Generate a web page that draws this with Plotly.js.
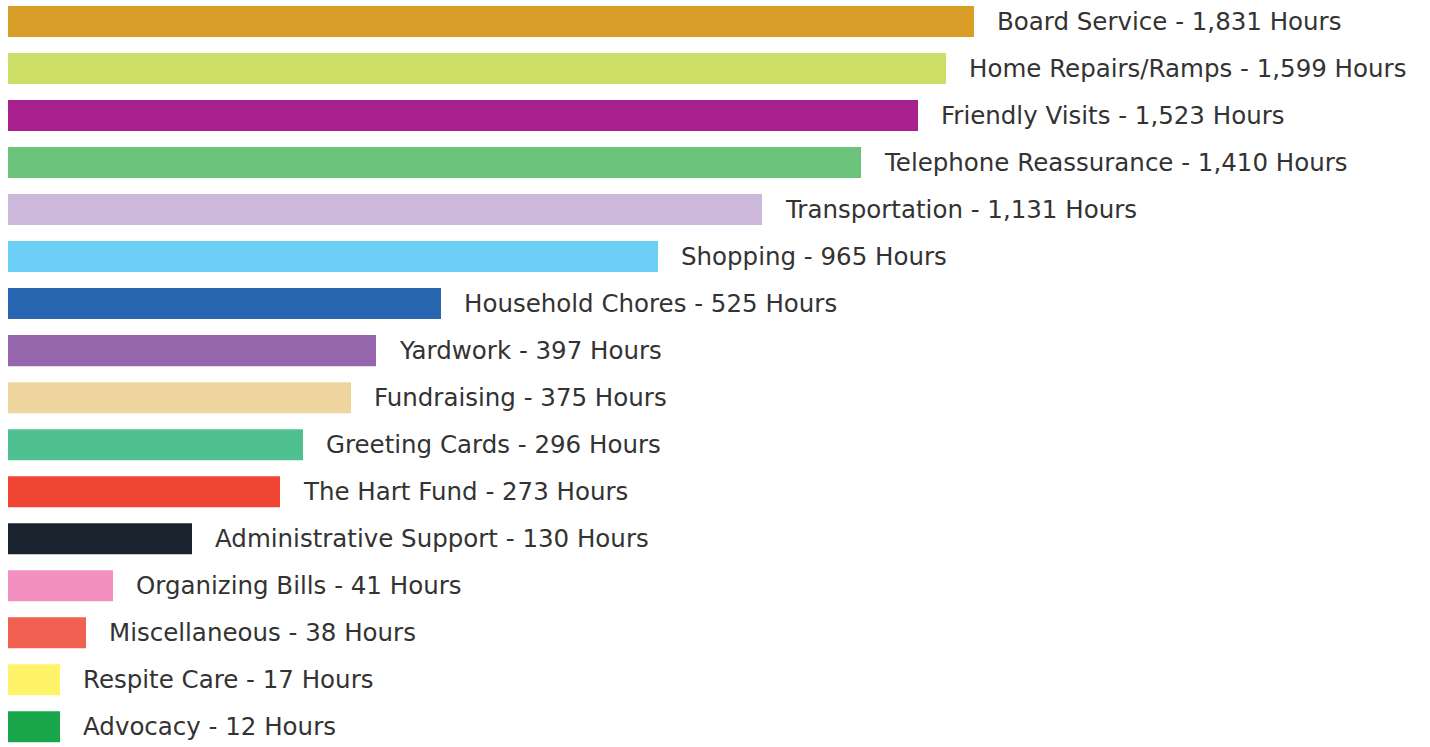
<!DOCTYPE html>
<html>
<head>
<meta charset="utf-8">
<script src="https://cdn.plot.ly/plotly-3.0.1.min.js"></script>
<style>
html,body{margin:0;padding:0;background:#fff;}
#chart{width:1430px;height:747px;}
</style>
</head>
<body>
<div id="chart"></div>
<script>
// Activity categories (top to bottom)
const categories = [
  "Board Service", "Home Repairs/Ramps", "Friendly Visits", "Telephone Reassurance",
  "Transportation", "Shopping", "Household Chores", "Yardwork", "Fundraising",
  "Greeting Cards", "The Hart Fund", "Administrative Support", "Organizing Bills",
  "Miscellaneous", "Respite Care", "Advocacy"
];
// Volunteer hours shown in the labels
const hours = [1831, 1599, 1523, 1410, 1131, 965, 525, 397, 375, 296, 273, 130, 41, 38, 17, 12];
// Drawn bar lengths as read from the infographic (bars are not to scale with hours)
const barLength = [966, 938, 910, 853, 754, 650, 433, 368, 343, 295, 272, 184, 105, 78, 52, 52];
// Bar colours
const barColors = [
  "#D99E27", "#CDDF66", "#A8208D", "#6BC27A", "#CCB8DA", "#6BCFF6", "#2966B2", "#9566AC",
  "#EED49D", "#4FC08F", "#EF4533", "#18232D", "#F390BF", "#F06152", "#FFF36A", "#1AA64A"
];

const labels = categories.map((c, i) => c + " - " + hours[i].toLocaleString("en-US") + " Hours");

const trace = {
  type: "bar",
  orientation: "h",
  y: categories,
  x: barLength,
  marker: {color: barColors, line: {width: 0}},
  hoverinfo: "skip"
};

const annotations = categories.map((c, i) => ({
  x: barLength[i],
  y: c,
  xref: "x",
  yref: "y",
  text: labels[i],
  showarrow: false,
  xanchor: "left",
  yanchor: "middle",
  xshift: 21,
  font: {family: "'DejaVu Sans', sans-serif", size: 24.5, color: "#333333"}
}));

const layout = {
  width: 1430,
  height: 747,
  margin: {l: 8, r: 0, t: 0, b: 0, pad: 0},
  paper_bgcolor: "#ffffff",
  plot_bgcolor: "#ffffff",
  showlegend: false,
  bargap: 0.34,
  xaxis: {range: [0, 1422], visible: false, fixedrange: true},
  yaxis: {
    type: "category",
    categoryorder: "array",
    categoryarray: categories,
    range: [15.43, -0.457],
    visible: false,
    fixedrange: true
  },
  annotations: annotations
};

Plotly.newPlot("chart", [trace], layout, {displayModeBar: false, staticPlot: true});
</script>
</body>
</html>
